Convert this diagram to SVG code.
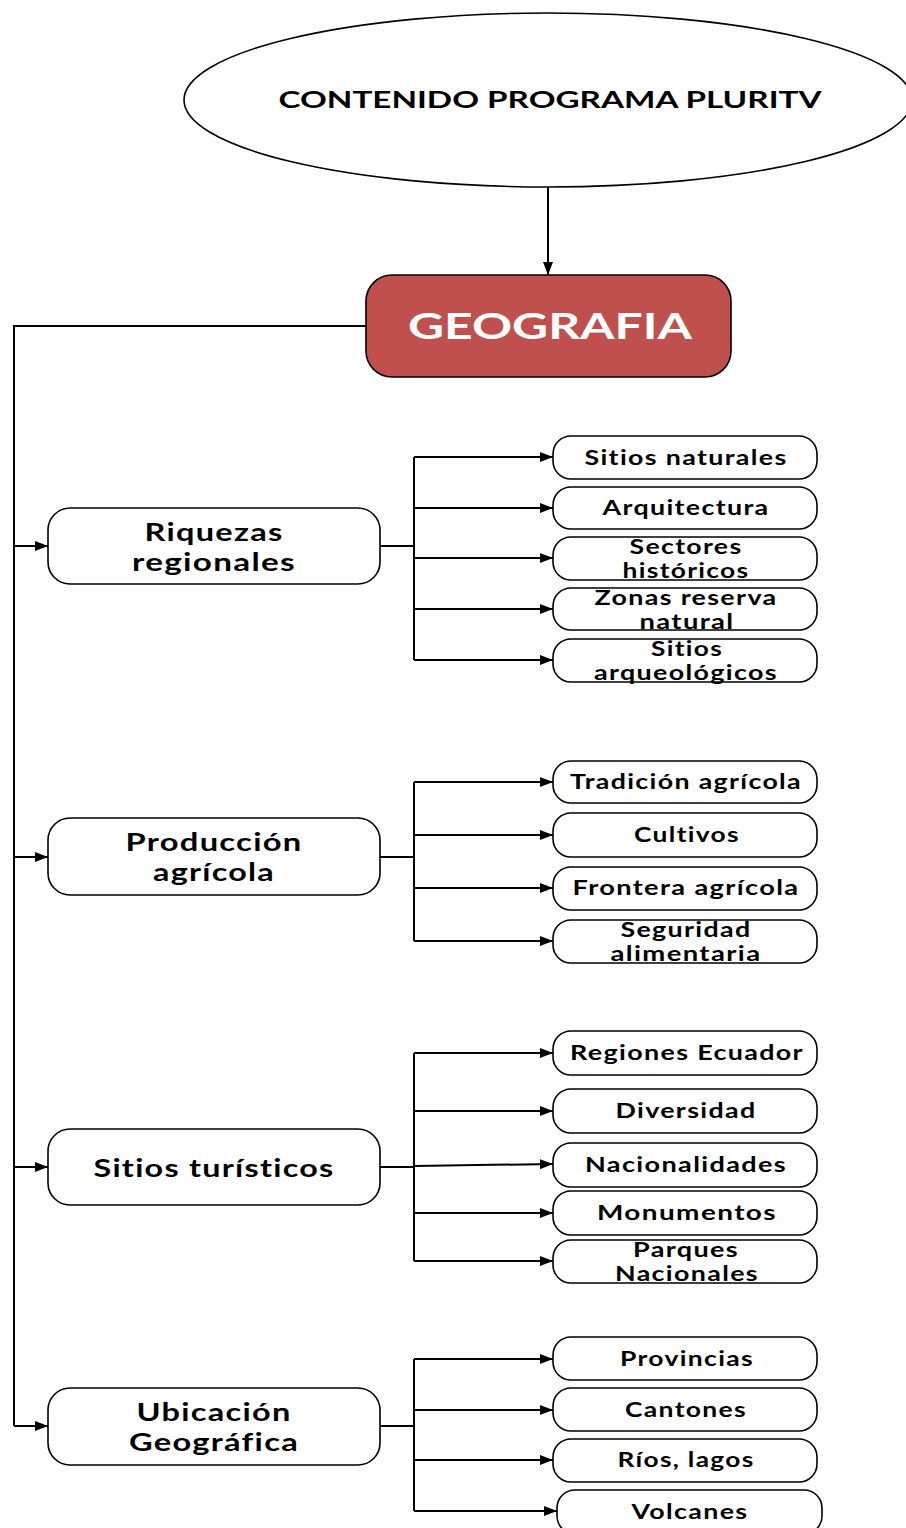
<svg xmlns="http://www.w3.org/2000/svg" width="906" height="1528" viewBox="0 0 906 1528">
<defs>
<marker id="ah" markerWidth="13" markerHeight="10" refX="13" refY="5" orient="auto" markerUnits="userSpaceOnUse">
<path d="M0,0 L13,5 L0,10 Z" fill="#000"/>
</marker>
<style>
.ln{fill:none;stroke:#000;stroke-width:2}
.bx{fill:#fff;stroke:#000;stroke-width:1.6}
.t{font-family:Lato,"Open Sans",sans-serif;font-weight:bold;fill:#000;text-anchor:middle;font-variant-ligatures:none}
.c{font-size:20px;letter-spacing:1px}
.k{font-size:25.5px;letter-spacing:1px}
</style>
</defs>
<rect width="906" height="1528" fill="#fff"/>
<g id="connectors">
<path class="ln" d="M548,187 V275" marker-end="url(#ah)"/>
<path class="ln" d="M366,326 H14 V1426"/>
<path class="ln" d="M14,546 H48" marker-end="url(#ah)"/>
<path class="ln" d="M14,857 H48" marker-end="url(#ah)"/>
<path class="ln" d="M14,1167 H48" marker-end="url(#ah)"/>
<path class="ln" d="M14,1426 H48" marker-end="url(#ah)"/>
<path class="ln" d="M380,546 H414 M414,457 V660"/>
<path class="ln" d="M414,457 H553" marker-end="url(#ah)"/>
<path class="ln" d="M414,508 H553" marker-end="url(#ah)"/>
<path class="ln" d="M414,558 H553" marker-end="url(#ah)"/>
<path class="ln" d="M414,609 H553" marker-end="url(#ah)"/>
<path class="ln" d="M414,660 H553" marker-end="url(#ah)"/>
<path class="ln" d="M380,857 H414 M414,782 V941"/>
<path class="ln" d="M414,782 H553" marker-end="url(#ah)"/>
<path class="ln" d="M414,835 H553" marker-end="url(#ah)"/>
<path class="ln" d="M414,888 H553" marker-end="url(#ah)"/>
<path class="ln" d="M414,941 H553" marker-end="url(#ah)"/>
<path class="ln" d="M380,1167 H414 M414,1053 V1261"/>
<path class="ln" d="M414,1053 H553" marker-end="url(#ah)"/>
<path class="ln" d="M414,1111 H553" marker-end="url(#ah)"/>
<path class="ln" d="M414,1166 L553,1164" marker-end="url(#ah)"/>
<path class="ln" d="M414,1213 H553" marker-end="url(#ah)"/>
<path class="ln" d="M414,1261 H553" marker-end="url(#ah)"/>
<path class="ln" d="M380,1426 H414 M414,1359 V1511"/>
<path class="ln" d="M414,1359 H553" marker-end="url(#ah)"/>
<path class="ln" d="M414,1410 H553" marker-end="url(#ah)"/>
<path class="ln" d="M414,1460 H553" marker-end="url(#ah)"/>
<path class="ln" d="M414,1511 H557" marker-end="url(#ah)"/>
</g>
<g id="root">
<ellipse cx="548" cy="100" rx="364" ry="87" class="bx"/>
<text class="t" x="550" y="108" font-size="23" textLength="543" lengthAdjust="spacingAndGlyphs">CONTENIDO PROGRAMA PLURITV</text>
</g>
<g id="geografia">
<rect x="366" y="275" width="365" height="102" rx="26" fill="#C0504D" stroke="#000" stroke-width="1.6"/>
<text class="t" x="550" y="339" font-size="36" style="fill:#fff" textLength="284" lengthAdjust="spacingAndGlyphs">GEOGRAFIA</text>
</g>
<g id="riquezas">
<rect class="bx" x="48" y="508" width="332" height="76" rx="22"/>
<text class="t k" x="214" y="541" textLength="139" lengthAdjust="spacingAndGlyphs">Riquezas</text>
<text class="t k" x="214" y="571" textLength="164" lengthAdjust="spacingAndGlyphs">regionales</text>
</g>
<g id="produccion">
<rect class="bx" x="48" y="818" width="332" height="77" rx="22"/>
<text class="t k" x="214" y="851" textLength="177" lengthAdjust="spacingAndGlyphs">Producción</text>
<text class="t k" x="214" y="881" textLength="122" lengthAdjust="spacingAndGlyphs">agrícola</text>
</g>
<g id="sitios">
<rect class="bx" x="48" y="1129" width="332" height="76" rx="22"/>
<text class="t k" x="214" y="1177" textLength="241" lengthAdjust="spacingAndGlyphs">Sitios turísticos</text>
</g>
<g id="ubicacion">
<rect class="bx" x="48" y="1388" width="332" height="77" rx="22"/>
<text class="t k" x="214" y="1421" textLength="155" lengthAdjust="spacingAndGlyphs">Ubicación</text>
<text class="t k" x="214" y="1451" textLength="170" lengthAdjust="spacingAndGlyphs">Geográfica</text>
</g>
<g id="sitios-naturales">
<rect class="bx" x="553" y="436" width="264" height="43" rx="18"/>
<text class="t c" x="686" y="465" textLength="203" lengthAdjust="spacingAndGlyphs">Sitios naturales</text>
</g>
<g id="arquitectura">
<rect class="bx" x="553" y="487" width="264" height="42" rx="18"/>
<text class="t c" x="686" y="515" textLength="167" lengthAdjust="spacingAndGlyphs">Arquitectura</text>
</g>
<g id="sectores">
<rect class="bx" x="553" y="537" width="264" height="43" rx="18"/>
<text class="t c" x="686" y="554" textLength="113" lengthAdjust="spacingAndGlyphs">Sectores</text>
<text class="t c" x="686" y="578" textLength="127" lengthAdjust="spacingAndGlyphs">históricos</text>
</g>
<g id="zonas">
<rect class="bx" x="553" y="588" width="264" height="42" rx="18"/>
<text class="t c" x="686" y="605" textLength="183" lengthAdjust="spacingAndGlyphs">Zonas reserva</text>
<text class="t c" x="687" y="629" textLength="95" lengthAdjust="spacingAndGlyphs">natural</text>
</g>
<g id="arqueologicos">
<rect class="bx" x="553" y="639" width="264" height="43" rx="18"/>
<text class="t c" x="687" y="656" textLength="72" lengthAdjust="spacingAndGlyphs">Sitios</text>
<text class="t c" x="686" y="680" textLength="184" lengthAdjust="spacingAndGlyphs">arqueológicos</text>
</g>
<g id="tradicion">
<rect class="bx" x="553" y="761" width="264" height="42" rx="18"/>
<text class="t c" x="686" y="789" textLength="232" lengthAdjust="spacingAndGlyphs">Tradición agrícola</text>
</g>
<g id="cultivos">
<rect class="bx" x="553" y="813" width="264" height="44" rx="18"/>
<text class="t c" x="687" y="842" textLength="106" lengthAdjust="spacingAndGlyphs">Cultivos</text>
</g>
<g id="frontera">
<rect class="bx" x="553" y="867" width="264" height="43" rx="18"/>
<text class="t c" x="686" y="895" textLength="227" lengthAdjust="spacingAndGlyphs">Frontera agrícola</text>
</g>
<g id="seguridad">
<rect class="bx" x="553" y="920" width="264" height="43" rx="18"/>
<text class="t c" x="686" y="937" textLength="131" lengthAdjust="spacingAndGlyphs">Seguridad</text>
<text class="t c" x="686" y="961" textLength="151" lengthAdjust="spacingAndGlyphs">alimentaria</text>
</g>
<g id="regiones">
<rect class="bx" x="553" y="1031" width="264" height="44" rx="18"/>
<text class="t c" x="687" y="1060" textLength="234" lengthAdjust="spacingAndGlyphs">Regiones Ecuador</text>
</g>
<g id="diversidad">
<rect class="bx" x="553" y="1089" width="264" height="44" rx="18"/>
<text class="t c" x="686" y="1118" textLength="141" lengthAdjust="spacingAndGlyphs">Diversidad</text>
</g>
<g id="nacionalidades">
<rect class="bx" x="553" y="1143" width="264" height="44" rx="18"/>
<text class="t c" x="686" y="1172" textLength="202" lengthAdjust="spacingAndGlyphs">Nacionalidades</text>
</g>
<g id="monumentos">
<rect class="bx" x="553" y="1191" width="264" height="44" rx="18"/>
<text class="t c" x="687" y="1220" textLength="180" lengthAdjust="spacingAndGlyphs">Monumentos</text>
</g>
<g id="parques">
<rect class="bx" x="553" y="1240" width="264" height="43" rx="18"/>
<text class="t c" x="686" y="1257" textLength="106" lengthAdjust="spacingAndGlyphs">Parques</text>
<text class="t c" x="687" y="1281" textLength="144" lengthAdjust="spacingAndGlyphs">Nacionales</text>
</g>
<g id="provincias">
<rect class="bx" x="553" y="1337" width="264" height="43" rx="18"/>
<text class="t c" x="687" y="1366" textLength="134" lengthAdjust="spacingAndGlyphs">Provincias</text>
</g>
<g id="cantones">
<rect class="bx" x="553" y="1388" width="264" height="43" rx="18"/>
<text class="t c" x="686" y="1417" textLength="122" lengthAdjust="spacingAndGlyphs">Cantones</text>
</g>
<g id="rios">
<rect class="bx" x="553" y="1439" width="264" height="43" rx="18"/>
<text class="t c" x="686" y="1467" textLength="137" lengthAdjust="spacingAndGlyphs">Ríos, lagos</text>
</g>
<g id="volcanes">
<rect class="bx" x="557" y="1490" width="265" height="44" rx="18"/>
<text class="t c" x="690" y="1519" textLength="117" lengthAdjust="spacingAndGlyphs">Volcanes</text>
</g>
</svg>
